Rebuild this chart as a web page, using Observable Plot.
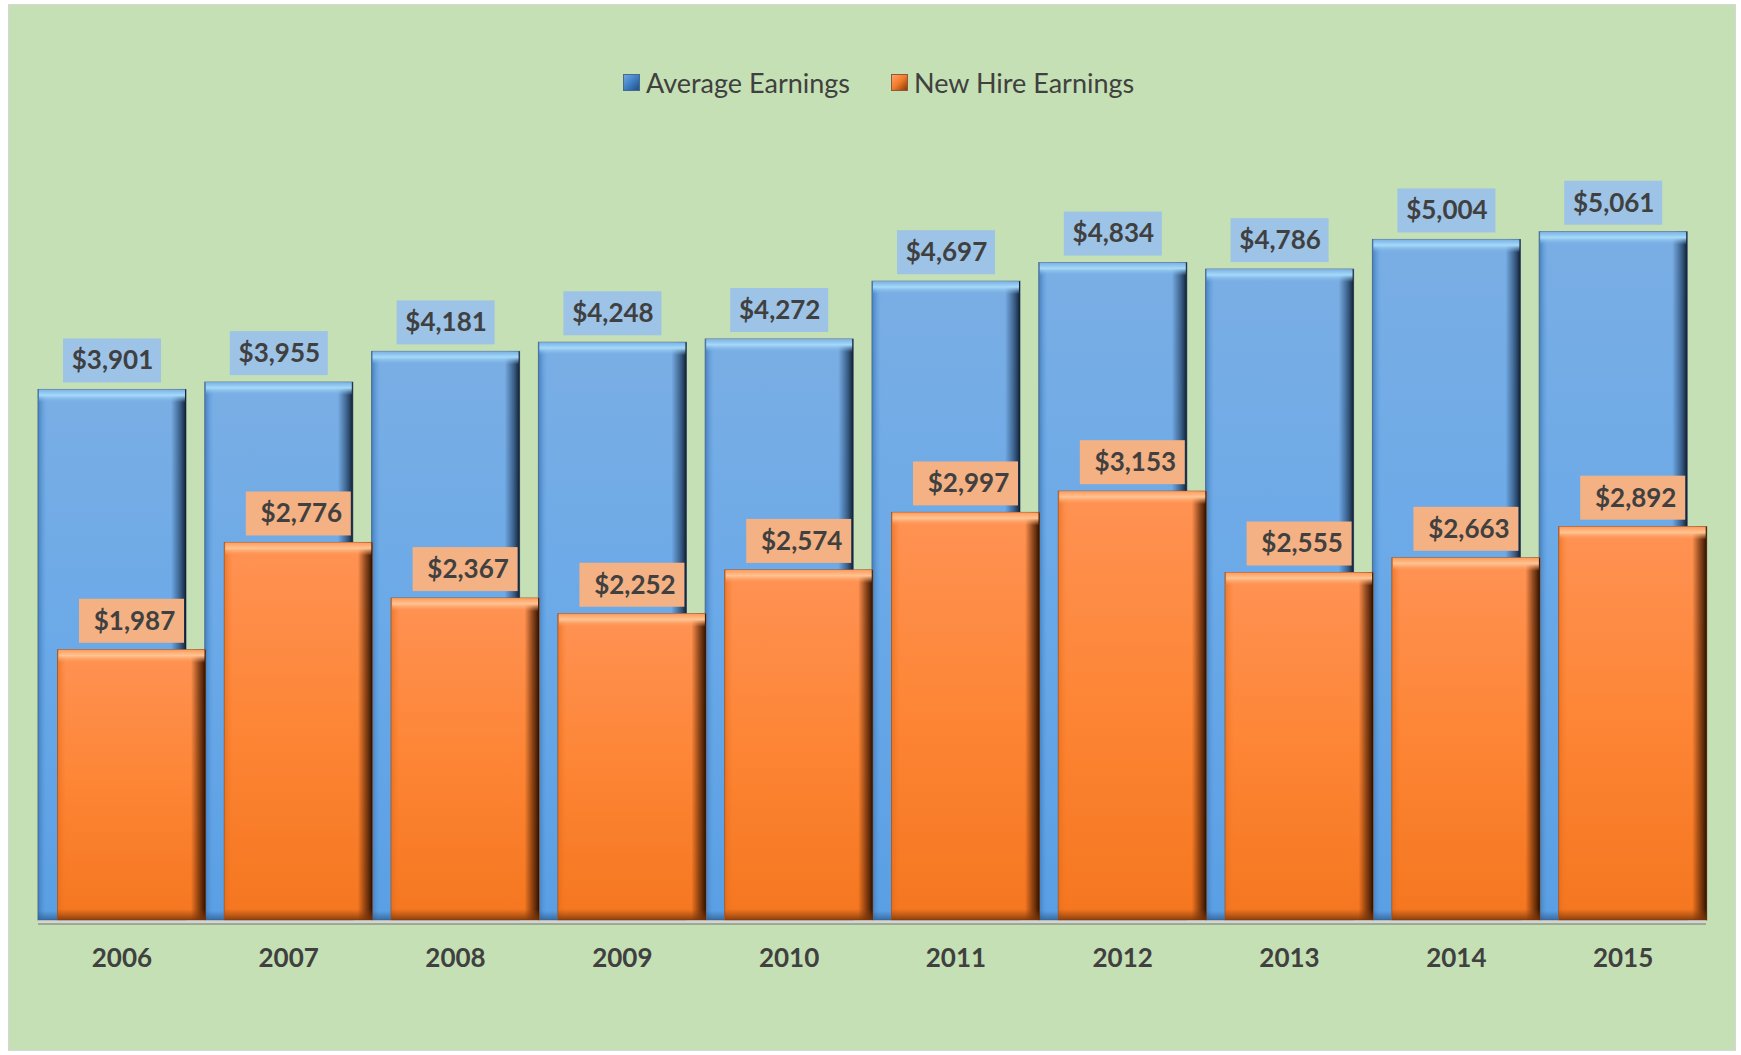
<!DOCTYPE html>
<html>
<head>
<meta charset="utf-8">
<script src="https://cdn.jsdelivr.net/npm/d3@7"></script>
<script src="https://cdn.jsdelivr.net/npm/@observablehq/plot@0.6"></script>
<style>
  html, body { margin: 0; padding: 0; background: #ffffff; }
  body { width: 1741px; height: 1055px; position: relative; overflow: hidden; font-family: Lato, "Noto Sans", sans-serif; }
  #frame { position: absolute; left: 8px; top: 4px; width: 1728px; height: 1047px; background: #c5e0b4; border: 1px solid #d6d6d6; box-sizing: border-box; }
  #chart { position: absolute; left: 0; top: 0; }
  #legend { position: absolute; top: 65px; left: 0; width: 1741px; height: 34px; }
  .item { position: absolute; top: 0; display: flex; align-items: center; height: 34px; font-size: 27px; color: #404040; white-space: nowrap; }
  .sw { width: 17px; height: 17px; margin-right: 6px; box-sizing: border-box; }
  .sw.blue { background: linear-gradient(135deg, #6fa8e0 0%, #3f7fc4 50%, #1f4f86 100%); border: 1px solid #4a6a8a; }
  .sw.orange { background: linear-gradient(135deg, #ffa36a 0%, #f07a2a 50%, #8a3a0a 100%); border: 1px solid #8a5a3a; }
</style>
</head>
<body>
<div id="frame"></div>
<div id="chart"></div>
<div id="legend">
  <div class="item" style="left:623px"><div class="sw blue"></div><span>Average Earnings</span></div>
  <div class="item" style="left:891px"><div class="sw orange"></div><span>New Hire Earnings</span></div>
</div>
<script>
const years = ["2006","2007","2008","2009","2010","2011","2012","2013","2014","2015"];
const averageEarnings = [3901, 3955, 4181, 4248, 4272, 4697, 4834, 4786, 5004, 5061];
const newHireEarnings = [1987, 2776, 2367, 2252, 2574, 2997, 3153, 2555, 2663, 2892];

const avg = years.map((year, i) => ({year, value: averageEarnings[i]}));
const hire = years.map((year, i) => ({year, value: newHireEarnings[i]}));
const fmt = d3.format("$,");

const W = 1741, H = 1055;
const mL = 38, mR = 35;
const step = (W - mL - mR) / years.length; // band width
const blueIn = {insetLeft: 0, insetRight: step - 148};
const orIn = {insetLeft: 19.5, insetRight: step - 167.5};

const font = {fontFamily: "Lato, 'Noto Sans', sans-serif", fontWeight: "bold", fontSize: 26, fill: "#404040"};

const chart = Plot.plot({
  width: W,
  height: H,
  marginLeft: mL,
  marginRight: mR,
  marginTop: 104,
  marginBottom: 135,
  style: {background: "transparent", overflow: "visible"},
  x: {type: "band", domain: years, padding: 0, round: false, axis: null},
  y: {domain: [0, 6000], axis: null},
  marks: [
    // Average Earnings bars
    Plot.barY(avg, {x: "year", y1: 0, y2: "value", fill: "url(#gBlue)", stroke: "#5a6c80", strokeWidth: 1, ...blueIn}),
    Plot.barY(avg, {x: "year", y1: 0, y2: "value", fill: "url(#gBlueLeft)", insetLeft: 0, insetRight: step - 9}),
    Plot.barY(avg, {x: "year", y1: 0, y2: "value", fill: "url(#gBlueRight)", insetLeft: 133, insetRight: step - 148}),
    Plot.barY(avg, {x: "year", y1: "value", y2: "value", insetTop: 0, insetBottom: -13, fill: "url(#gBlueTop)", insetLeft: 1, insetRight: step - 147}),
    Plot.barY(avg, {x: "year", y1: 0, y2: 0, insetTop: -9, insetBottom: 0, fill: "url(#gBlueBottom)", ...blueIn}),
    // New Hire Earnings bars
    Plot.barY(hire, {x: "year", y1: 0, y2: "value", fill: "url(#gOrange)", stroke: "#8a5a3a", strokeWidth: 1, ...orIn}),
    Plot.barY(hire, {x: "year", y1: 0, y2: "value", fill: "url(#gOrLeft)", insetLeft: 19.5, insetRight: step - 28}),
    Plot.barY(hire, {x: "year", y1: 0, y2: "value", fill: "url(#gOrRight)", insetLeft: 153, insetRight: step - 167.5}),
    Plot.barY(hire, {x: "year", y1: "value", y2: "value", insetTop: 0, insetBottom: -13, fill: "url(#gOrTop)", insetLeft: 20.5, insetRight: step - 166.5}),
    Plot.barY(hire, {x: "year", y1: 0, y2: 0, insetTop: -11, insetBottom: 0, fill: "url(#gOrBottom)", ...orIn}),
    // baseline
    Plot.ruleY([0], {stroke: "#d4d4d4", strokeWidth: 3, dy: 1.5}),
    Plot.ruleY([0], {stroke: "#4a4a4a", strokeWidth: 1, strokeOpacity: 0.7, dy: 3.5}),
    // Average label boxes + text
    Plot.barY(avg, {x: "year", y1: "value", y2: "value", insetTop: -51, insetBottom: 7, insetLeft: 25, insetRight: step - 123, fill: "#9dc3e6"}),
    Plot.text(avg, {x: "year", y: "value", text: d => fmt(d.value), dy: -29, dx: 74 - step / 2, ...font}),
    // New hire label boxes + text
    Plot.barY(hire, {x: "year", y1: "value", y2: "value", insetTop: -51, insetBottom: 7, insetLeft: 41, insetRight: step - 146, fill: "#f4b183"}),
    Plot.text(hire, {x: "year", y: "value", text: d => fmt(d.value), dy: -29, dx: 96 - step / 2, ...font}),
    // x axis labels
    Plot.axisX({tickSize: 0, tickPadding: 28, fontSize: 26, fontWeight: "bold", fontFamily: "Lato, 'Noto Sans', sans-serif", color: "#404040", label: null})
  ]
});

const svg = d3.select(chart);
const defs = svg.insert("defs", ":first-child");
function grad(id, stops, vertical = true) {
  const g = defs.append("linearGradient").attr("id", id)
    .attr("x1", 0).attr("y1", 0).attr("x2", vertical ? 0 : 1).attr("y2", vertical ? 1 : 0);
  stops.forEach(([o, c, op]) => g.append("stop").attr("offset", o).attr("stop-color", c).attr("stop-opacity", op ?? 1));
}
grad("gBlue", [[0, "#7aaee4"], [0.5, "#6aa9e8"], [1, "#5a9fe4"]]);
grad("gBlueTop", [[0, "#7ab0e6"], [0.45, "#a6daf8"], [1, "#7ab0e6", 0]]);
grad("gBlueLeft", [[0, "#3a72b0", 0.8], [1, "#5a9fe4", 0]], false);
grad("gBlueRight", [[0, "#2a4a70", 0], [0.55, "#2a4a70", 0.7], [1, "#101e30", 1]], false);
grad("gBlueBottom", [[0, "#2f5f94", 0], [1, "#2f5f94", 0.8]]);
grad("gOrange", [[0, "#ff9254"], [0.5, "#fd8535"], [1, "#f5761f"]]);
grad("gOrTop", [[0, "#ff9a5a"], [0.45, "#ffc594"], [1, "#ff9a5a", 0]]);
grad("gOrLeft", [[0, "#e06818", 0.6], [1, "#f5761f", 0]], false);
grad("gOrRight", [[0, "#5a2606", 0], [0.55, "#5a2606", 0.7], [1, "#2a1000", 1]], false);
grad("gOrBottom", [[0, "#8a4010", 0], [1, "#7a3508", 0.85]]);

document.getElementById("chart").appendChild(chart);
</script>
</body>
</html>
